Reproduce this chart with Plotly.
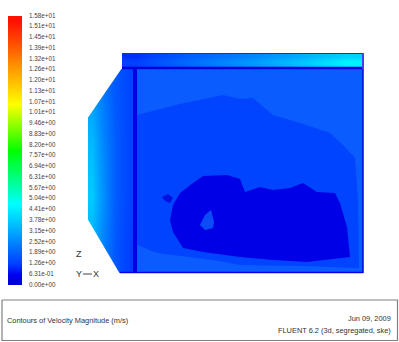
import plotly.graph_objects as go

# ---- data (velocity in m/s, outlines in picture units) ----
level_labels = ["1.58e+01","1.51e+01","1.45e+01","1.39e+01","1.32e+01","1.26e+01","1.20e+01",
                "1.13e+01","1.07e+01","1.01e+01","9.46e+00","8.83e+00","8.20e+00","7.57e+00",
                "6.94e+00","6.31e+00","5.67e+00","5.04e+00","4.41e+00","3.78e+00","3.15e+00",
                "2.52e+00","1.89e+00","1.26e+00","6.31e-01","0.00e+00"]
level_values = [15.8,15.1,14.5,13.9,13.2,12.6,12.0,11.3,10.7,10.1,9.46,8.83,8.20,7.57,6.94,6.31,
                5.67,5.04,4.41,3.78,3.15,2.52,1.89,1.26,0.631,0.0]
level_y = [16 + i * 10.76 for i in range(len(level_values))]

top_band_x = [137, 167, 197, 227, 257, 287, 317, 347]
top_band_y = [56, 61, 66]
top_band_v = [[1.1, 1.5, 1.9, 2.2, 2.6, 3.0, 3.5, 3.9],
              [1.3, 1.8, 2.2, 2.6, 3.0, 3.5, 4.0, 4.6],
              [1.2, 1.6, 2.0, 2.4, 2.8, 3.3, 3.8, 4.4]]

inlet_x = [91.875, 99.625, 107.375, 115.125, 122.875, 130.625]
inlet_y = [94.5, 145.5, 196.5, 247.5]
inlet_v = [[3.0, 2.5, 2.1, 1.7, 1.5, 1.3],
           [3.5, 2.8, 2.3, 1.8, 1.5, 1.3],
           [3.8, 3.0, 2.4, 1.8, 1.5, 1.3],
           [3.3, 2.7, 2.2, 1.7, 1.4, 1.2]]

mask_top_x = [87, 122, 87, 87]
mask_top_y = [119, 68, 68, 119]
mask_bottom_x = [87, 120, 87, 87]
mask_bottom_y = [218, 274, 274, 218]

main_x = [134, 363, 363, 134, 134]
main_y = [69, 69, 273, 273, 69]

core_x = [137, 180, 223, 240, 253, 273, 300, 330, 343, 355, 358, 359, 300, 240, 213, 157, 137, 137]
core_y = [115, 104, 95, 99, 98, 115, 123, 133, 145, 158, 200, 268, 266, 265, 260, 253, 245, 115]

blob_x = [203, 227, 240, 245, 260, 273, 290, 303, 317, 335, 340, 347, 350, 323, 307, 273, 240, 203, 183, 173,
          170, 173, 180, 193, 203]
blob_y = [176, 175, 179, 192, 187, 190, 188, 183, 192, 193, 203, 227, 257, 260, 262, 260, 257, 252, 248, 232,
          220, 205, 193, 183, 176]
spot_x = [200, 205, 211, 214, 213, 205, 200]
spot_y = [225, 215, 210, 222, 228, 230, 225]
patch_x = [162, 168, 173, 170, 165, 162]
patch_y = [197, 194, 198, 203, 201, 197]

wall_lines = {
    "vertical":   ([135, 135], [69, 272], 4, "#0000e8"),
    "horizontal": ([122, 362], [68, 68], 2.5, "#0000d8"),
    "top":        ([122, 362], [53.5, 53.5], 1, "#0a30e8"),
    "right":      ([363, 363], [53, 273], 1.5, "#0000e6"),
    "bottom":     ([120, 363], [272.5, 272.5], 1.5, "#0000e6"),
}

frame_x = [2, 397.5, 397.5, 2, 2]
frame_y = [300, 300, 340.5, 340.5, 300]
triad_x = [83, 92]
triad_y = [274, 274]

scale = [[0, "#0000c8"], [0.04, "#0000f0"], [0.08, "#0040ff"], [0.30, "#00ffff"],
         [0.50, "#00ff00"], [0.67, "#ffff00"], [1, "#ff0000"]]

fig = go.Figure()

def field(x, y, z, smooth="best"):
    fig.add_trace(go.Heatmap(x=x, y=y, z=z, zmin=0, zmax=15.8, colorscale=scale, showscale=False,
                             zsmooth=smooth, hoverinfo="skip"))

# colour bar: cell centres, two identical columns so that it can be smoothed
bar_x = [11.5, 18.5]
bar_y = [(level_y[i] + level_y[i + 1]) / 2 for i in range(len(level_values) - 1)]
bar_v = [[(level_values[i] + level_values[i + 1]) / 2] * 2 for i in range(len(level_values) - 1)]
field(bar_x, bar_y, bar_v)
field(top_band_x, top_band_y, top_band_v)
field(inlet_x, inlet_y, inlet_v)

def poly(x, y, color):
    fig.add_trace(go.Scatter(x=x, y=y, mode="lines", fill="toself", fillcolor=color,
                             line=dict(width=0, color=color), hoverinfo="skip"))

poly(mask_top_x, mask_top_y, "#ffffff")
poly(mask_bottom_x, mask_bottom_y, "#ffffff")
poly(main_x, main_y, "#0a5cff")
poly(core_x, core_y, "#0044ff")
poly(blob_x, blob_y, "#0000e6")
poly(spot_x, spot_y, "#0c4cf6")
poly(patch_x, patch_y, "#0010e0")

for name, (x, y, w, c) in wall_lines.items():
    fig.add_trace(go.Scatter(x=x, y=y, mode="lines", line=dict(width=w, color=c), hoverinfo="skip"))

fig.add_trace(go.Scatter(x=frame_x, y=frame_y, mode="lines", line=dict(width=1.2, color="#808080"), hoverinfo="skip"))
fig.add_trace(go.Scatter(x=triad_x, y=triad_y, mode="lines", line=dict(width=1, color="#444444"), hoverinfo="skip"))

FONT = "Liberation Sans"
fig.add_trace(go.Scatter(x=[29] * len(level_labels), y=level_y, mode="text", text=level_labels,
                         textposition="middle right", textfont=dict(family=FONT, size=6.3, color="#444444"),
                         hoverinfo="skip"))

def label(x, y, s, anchor="left", size=7.4):
    fig.add_annotation(x=x, y=y, text=s, showarrow=False, xanchor=anchor, yanchor="middle",
                       font=dict(family=FONT, size=size, color="#333333"))

label(79, 254, "Z", "center", 9)
label(79, 274, "Y", "center", 9)
label(96, 274, "X", "center", 9)
label(5, 320, "Contours of Velocity Magnitude (m/s)")
label(393, 318.5, "Jun 09, 2009", "right")
label(393, 330.5, "FLUENT 6.2 (3d, segregated, ske)", "right")

fig.update_layout(width=399, height=342, margin=dict(l=0, r=0, t=0, b=0), showlegend=False,
                  paper_bgcolor="#ffffff", plot_bgcolor="#ffffff",
                  xaxis=dict(range=[0, 399], visible=False, fixedrange=True),
                  yaxis=dict(range=[342, 0], visible=False, fixedrange=True))

fig.write_html("out.html", config={"displayModeBar": False},
               post_script="document.body.style.margin='0';document.body.style.overflow='hidden';")
